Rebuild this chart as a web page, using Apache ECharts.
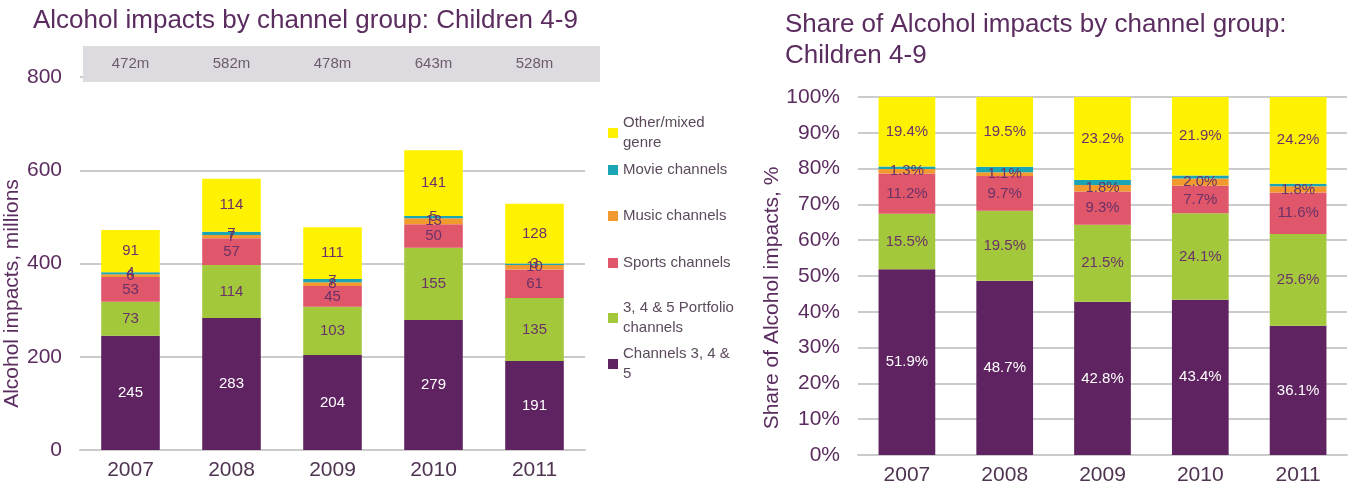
<!DOCTYPE html>
<html>
<head>
<meta charset="utf-8">
<title>Alcohol impacts by channel group: Children 4-9</title>
<script src="https://cdn.jsdelivr.net/npm/echarts@6/dist/echarts.min.js"></script>
<style>
  html, body { margin: 0; padding: 0; background: #fff; }
  #main { width: 1355px; height: 492px; }
</style>
</head>
<body>
<div id="main"></div>
<script>
// data
var years = ['2007', '2008', '2009', '2010', '2011'];
var totals = ['472m', '582m', '478m', '643m', '528m'];

// impacts, millions
var main345 = [245, 283, 204, 279, 191];
var portfolio = [73, 114, 103, 155, 135];
var sports = [53, 57, 45, 50, 61];
var music = [6, 7, 8, 13, 10];
var movie = [4, 7, 7, 5, 3];
var other = [91, 114, 111, 141, 128];

// share, %
var shMain345 = [51.9, 48.7, 42.8, 43.4, 36.1];
var shPortfolio = [15.5, 19.5, 21.5, 24.1, 25.6];
var shSports = [11.2, 9.7, 9.3, 7.7, 11.6];
var shMusic = [1.3, 1.1, 1.8, 2.0, 1.8];
var shMovie = [0.7, 1.5, 1.4, 0.9, 0.7];
var shOther = [19.4, 19.5, 23.2, 21.9, 24.2];

var names = ['Channels 3, 4 & 5', '3, 4 & 5 Portfolio channels', 'Sports channels',
             'Music channels', 'Movie channels', 'Other/mixed genre'];
var colors = ['#5f2361', '#a4c83b', '#e0566a', '#f39a2e', '#1aa5b5', '#fff200'];

var FONT = 'Liberation Sans';
var purple = '#5b2c5f';
var textDark = '#4e3450';
var gridGrey = '#cbcbcb';

var chart = echarts.init(document.getElementById('main'));

function makeSeries(arrs, axisIdx, isShare) {
    return arrs.map(function (arr, i) {
        return {
            name: names[i],
            type: 'bar',
            stack: isShare ? 'share' : 'abs',
            xAxisIndex: axisIdx,
            yAxisIndex: axisIdx,
            barWidth: '58%',
            z: 2,
            itemStyle: { color: colors[i] },
            label: {
                show: !(isShare && i == 4),
                position: 'inside',
                fontFamily: FONT,
                fontSize: 15,
                color: i == 0 ? '#ffffff' : '#6a3268',
                formatter: function (p) {
                    return isShare ? p.value.toFixed(1) + '%' : p.value;
                }
            },
            data: arr
        };
    });
}

// legend split up so each entry can sit at its own height
var legendTops = [108, 155, 201, 248, 293, 339];
var legendText = {
    'Other/mixed genre': 'Other/mixed\ngenre',
    'Movie channels': 'Movie channels',
    'Music channels': 'Music channels',
    'Sports channels': 'Sports channels',
    '3, 4 & 5 Portfolio channels': '3, 4 & 5 Portfolio\nchannels',
    'Channels 3, 4 & 5': 'Channels 3, 4 &\n5'
};
var legendOrder = names.slice().reverse();
var legends = legendOrder.map(function (n, i) {
    return {
        left: 603,
        top: legendTops[i],
        orient: 'vertical',
        itemWidth: 10,
        itemHeight: 10,
        icon: 'rect',
        selectedMode: false,
        data: [n],
        formatter: function (name) { return legendText[name]; },
        textStyle: { fontFamily: FONT, fontSize: 15, color: '#5a4a5c', lineHeight: 20 }
    };
});

chart.setOption({
    animation: false,
    title: [{
        text: 'Alcohol impacts by channel group: Children 4-9',
        left: 28,
        top: 3,
        textStyle: { fontFamily: FONT, fontSize: 26, fontWeight: 'normal', color: purple }
    }, {
        text: 'Share of Alcohol impacts by channel group:\nChildren 4-9',
        left: 780,
        top: 4,
        textStyle: { fontFamily: FONT, fontSize: 26, fontWeight: 'normal', color: purple, lineHeight: 31 }
    }],
    legend: legends,
    graphic: [{
        type: 'rect',
        z: 1,
        shape: { x: 83, y: 46, width: 517, height: 36 },
        style: { fill: '#dedbe0' }
    }],
    grid: [
        { left: 80, right: 770, top: 77, bottom: 42 },
        { left: 858, right: 8, top: 97, bottom: 37 }
    ],
    xAxis: [{
        type: 'category',
        gridIndex: 0,
        data: years,
        axisLine: { lineStyle: { color: gridGrey, width: 2 } },
        axisTick: { show: false },
        axisLabel: { fontFamily: FONT, fontSize: 21, color: textDark, margin: 10 }
    }, {
        type: 'category',
        gridIndex: 1,
        data: years,
        axisLine: { lineStyle: { color: gridGrey, width: 2 } },
        axisTick: { show: false },
        axisLabel: { fontFamily: FONT, fontSize: 21, color: textDark, margin: 10 }
    }, {
        // totals strip above the left chart
        type: 'category',
        gridIndex: 0,
        position: 'top',
        z: 5,
        data: totals,
        axisLine: { show: false },
        axisTick: { show: false },
        axisLabel: { fontFamily: FONT, fontSize: 15, color: '#6b5b6d', margin: 6 }
    }],
    yAxis: [{
        type: 'value',
        gridIndex: 0,
        z: 0,
        min: 0,
        max: 800,
        interval: 200,
        name: 'Alcohol impacts, millions',
        nameLocation: 'middle',
        nameGap: 49,
        nameTextStyle: { fontFamily: FONT, fontSize: 21, color: purple, padding: [0, 60, 0, 0] },
        axisLine: { show: false },
        axisTick: { show: false },
        splitLine: { lineStyle: { color: gridGrey, width: 2 } },
        axisLabel: { fontFamily: FONT, fontSize: 21, color: purple, margin: 18 }
    }, {
        type: 'value',
        gridIndex: 1,
        min: 0,
        max: 100,
        interval: 10,
        name: 'Share of Alcohol impacts, %',
        nameLocation: 'middle',
        nameGap: 75,
        nameTextStyle: { fontFamily: FONT, fontSize: 21, color: purple, padding: [0, 44, 0, 0] },
        axisLine: { show: false },
        axisTick: { show: false },
        splitLine: { lineStyle: { color: gridGrey, width: 2 } },
        axisLabel: { fontFamily: FONT, fontSize: 21, color: purple, margin: 18, formatter: '{value}%' }
    }],
    series: makeSeries([main345, portfolio, sports, music, movie, other], 0, false)
        .concat(makeSeries([shMain345, shPortfolio, shSports, shMusic, shMovie, shOther], 1, true))
});
</script>
</body>
</html>
